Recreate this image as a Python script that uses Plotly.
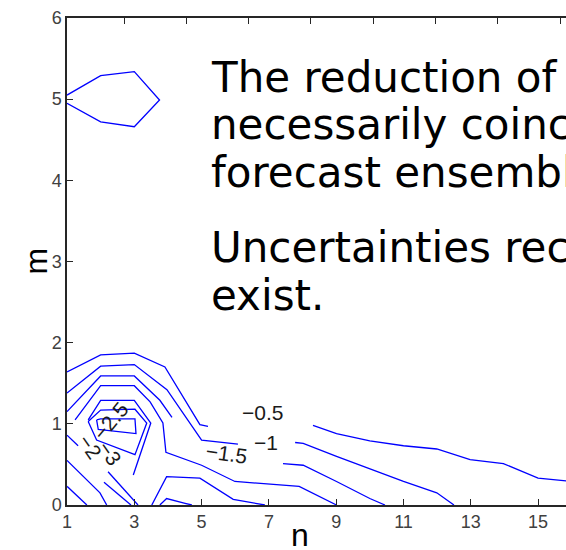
import plotly.graph_objects as go

# ---- data: contour polylines in (n, m) data units ----
top_loop_n = [1, 2, 3, 3.75, 3, 2, 1]
top_loop_m = [5.05, 5.29, 5.34, 4.99, 4.66, 4.72, 4.95]

c05_left_n = [1, 2, 3, 3.91, 4.95, 5.19]
c05_left_m = [1.64, 1.85, 1.87, 1.70, 0.99, 0.97]
c05_right_n = [8.31, 9.01, 10, 11, 11.99, 12.98, 13.97, 15, 16]
c05_right_m = [0.98, 0.88, 0.79, 0.73, 0.69, 0.56, 0.51, 0.33, 0.29]

c10_left_n = [1, 2, 3, 3.97, 5.0, 6.08]
c10_left_m = [1.38, 1.71, 1.73, 1.42, 0.80, 0.75]
c10_right_n = [7.78, 8.02, 9.01, 10, 11, 11.99, 12.5]
c10_right_m = [0.77, 0.76, 0.60, 0.45, 0.29, 0.15, 0.0]

c15_left_n = [1, 2, 3, 3.76, 4.12]
c15_left_m = [1.15, 1.59, 1.59, 1.29, 1.08]
c15_right_n = [7.42, 8.02, 9.01, 10, 10.45]
c15_right_m = [0.51, 0.49, 0.29, 0.08, 0]

c20_n = [1.24, 2, 3, 3.47, 3.85, 3.94, 5.0, 5.99, 7.9, 9.01]
c20_m = [1.05, 1.47, 1.47, 1.27, 1.01, 0.65, 0.49, 0.29, 0.23, 0]

bottom_big_n = [3.52, 3.96, 4.95, 5.94, 6.88]
bottom_big_m = [0, 0.35, 0.33, 0.07, 0]
bottom_small_n = [3.76, 3.96, 4.51, 4.71]
bottom_small_m = [0, 0.08, 0.02, 0]

inner_open_n = [1.63, 2, 3, 3.49, 2.97]
inner_open_m = [1.05, 1.29, 1.29, 1.01, 0.37]
inner_d_n = [1.63, 2, 3.02, 3.37, 3.02, 1.88, 1.63]
inner_d_m = [1.03, 1.17, 1.18, 1.01, 0.62, 0.80, 1.03]
inner_e_n = [1.88, 2, 3.02, 3.05, 1.93, 1.88]
inner_e_m = [1.05, 1.06, 1.06, 0.88, 0.93, 1.05]

left_a1_n = [1, 1.33]
left_a1_m = [0.86, 0.73]
left_a2_n = [2.22, 3.11]
left_a2_m = [0.41, 0]
left_b_n = [2.10, 2.90]
left_b_m = [0.28, 0]
left_c_n = [1, 1.98, 2.18]
left_c_m = [0.55, 0.15, 0]
left_d_n = [1, 1.59]
left_d_m = [0.23, 0]

segments = [
    (top_loop_n, top_loop_m),
    (c05_left_n, c05_left_m), (c05_right_n, c05_right_m),
    (c10_left_n, c10_left_m), (c10_right_n, c10_right_m),
    (c15_left_n, c15_left_m), (c15_right_n, c15_right_m),
    (c20_n, c20_m),
    (bottom_big_n, bottom_big_m), (bottom_small_n, bottom_small_m),
    (inner_open_n, inner_open_m), (inner_d_n, inner_d_m), (inner_e_n, inner_e_m),
    (left_a1_n, left_a1_m), (left_a2_n, left_a2_m), (left_b_n, left_b_m),
    (left_c_n, left_c_m), (left_d_n, left_d_m),
]

# contour labels
label_text = ["\u22120.5", "\u22121", "\u22121.5", "\u22122.5", "\u22122", "\u22123"]
label_n = [6.80, 6.91, 5.75, 2.28, 1.68, 2.28]
label_m = [1.14, 0.77, 0.64, 1.03, 0.72, 0.64]
label_angle = [0, 0, 8, -50, 55, 55]

x_ticks = [1, 3, 5, 7, 9, 11, 13, 15]
y_ticks = [0, 1, 2, 3, 4, 5, 6]

slide_lines = ["The reduction of", "necessarily coincide", "forecast ensemble",
               "Uncertainties rec", "exist."]
slide_m = [5.27, 4.69, 4.10, 3.17, 2.58]

fig = go.Figure()
for sn, sm in segments:
    fig.add_trace(go.Scatter(x=sn, y=sm, mode="lines",
                             line=dict(color="#0000ff", width=1.3),
                             hoverinfo="skip", showlegend=False))
# invisible trace for the top axis
fig.add_trace(go.Scatter(x=[0], y=[-1], xaxis="x2", mode="markers",
                         marker=dict(opacity=0), showlegend=False, hoverinfo="skip"))

annotations = []
for t, xn, ym, a in zip(label_text, label_n, label_m, label_angle):
    annotations.append(dict(x=xn, y=ym, xref="x", yref="y", text=t, showarrow=False,
                            textangle=a, font=dict(family="Liberation Sans, Arial", size=21,
                                                   color="#1a1a1a")))
for t, ym in zip(slide_lines, slide_m):
    annotations.append(dict(x=5.23, y=ym, xref="x", yref="y", text=t, showarrow=False,
                            xanchor="left", yanchor="middle",
                            font=dict(family="DejaVu Sans", size=42, color="#000000")))
annotations.append(dict(x=(300 - 67) / 499, y=-30 / 487, xref="paper", yref="paper", text="n",
                        showarrow=False, xanchor="center", yanchor="middle",
                        font=dict(family="Liberation Sans, Arial", size=32, color="#000000")))
annotations.append(dict(x=-32 / 499, y=0.5, xref="paper", yref="paper", text="m",
                        showarrow=False, xanchor="center", yanchor="middle", textangle=-90,
                        font=dict(family="Liberation Sans, Arial", size=32, color="#000000")))

tickfont = dict(family="Liberation Sans, Arial", size=18, color="#404040")
fig.update_layout(
    width=566, height=550,
    margin=dict(l=67, r=0, t=18, b=45),
    paper_bgcolor="white", plot_bgcolor="white",
    xaxis=dict(range=[1, 15.83], tickvals=x_ticks, ticktext=[str(v) for v in x_ticks],
               showgrid=False, zeroline=False, showline=True, linecolor="#262626",
               linewidth=1.5, ticks="inside", ticklen=6, tickcolor="#262626",
               tickfont=tickfont, mirror=False),
    xaxis2=dict(overlaying="x", side="top", range=[-0.915, 7.095], dtick=1, tick0=0,
                showgrid=False, zeroline=False, showline=True, linecolor="#262626",
                linewidth=1.5, ticks="inside", ticklen=6, tickcolor="#262626",
                showticklabels=False),
    yaxis=dict(range=[0, 6], tickvals=y_ticks, showgrid=False, zeroline=False,
               showline=True, linecolor="#262626", linewidth=1.5, ticks="inside",
               ticklen=6, tickcolor="#262626", tickfont=tickfont, mirror=False),
    annotations=annotations,
)
fig.write_html("out.html", config={"displayModeBar": False},
               post_script="document.body.style.margin='0';document.body.style.overflow='hidden';")
